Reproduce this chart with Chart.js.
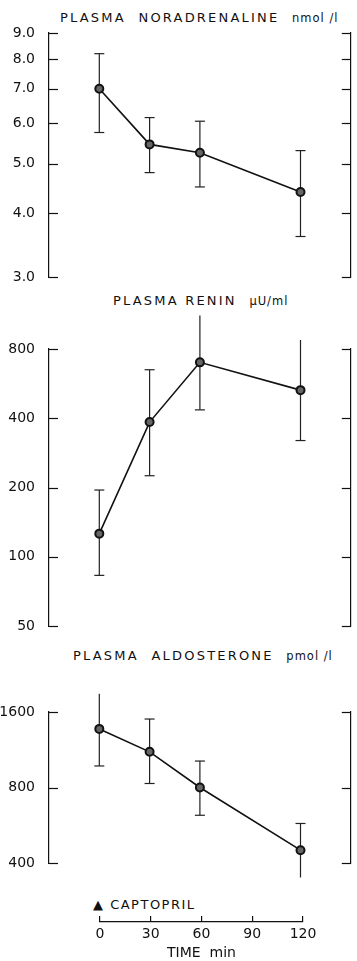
<!DOCTYPE html>
<html>
<head>
<meta charset="utf-8">
<script src="https://cdn.jsdelivr.net/npm/chart.js@4.4.1/dist/chart.umd.min.js"></script>
<style>
  html, body { margin: 0; padding: 0; background: #fff; }
  body { width: 357px; height: 961px; position: relative; overflow: hidden; }
  canvas { position: absolute; left: 0; }
  .lbl {
    position: absolute; white-space: pre; color: #111;
    font-family: "DejaVu Sans", sans-serif; font-size: 13px; line-height: 14px;
    letter-spacing: 2.2px;
  }
  .lbl small { font-size: 11.5px; letter-spacing: 1px; }
</style>
</head>
<body>
<div class="lbl" style="left:60px; top:11px;">PLASMA  NORADRENALINE  <small>nmol /l</small></div>
<div class="lbl" style="left:113px; top:294px;">PLASMA RENIN  <small>µU/ml</small></div>
<div class="lbl" style="left:73px; top:649px;">PLASMA  ALDOSTERONE  <small>pmol /l</small></div>
<div class="lbl" style="left:93px; top:898px; letter-spacing:1.5px;">▲ CAPTOPRIL</div>

<canvas id="norad" width="357" height="304" style="top:3px"></canvas>
<canvas id="renin" width="357" height="367" style="top:304px"></canvas>
<canvas id="aldo" width="357" height="211" style="top:682px"></canvas>
<canvas id="time" width="357" height="51" style="top:916px"></canvas>

<script>
// sampling times (min after captopril)
const times = [0, 30, 60, 120];
const timeTicks = [0, 30, 60, 90, 120];

// plasma noradrenaline, nmol/l
const noradMean = [7.0, 5.45, 5.25, 4.4];
const noradHigh = [8.2, 6.15, 6.05, 5.3];
const noradLow = [5.75, 4.8, 4.5, 3.6];
const noradTicks = [3, 4, 5, 6, 7, 8, 9];

// plasma renin, µU/ml
const reninMean = [126, 385, 700, 530];
const reninHigh = [195, 650, 1120, 875];
const reninLow = [83, 225, 435, 320];
const reninTicks = [50, 100, 200, 400, 800];

// plasma aldosterone, pmol/l
const aldoMean = [1370, 1110, 800, 450];
const aldoHigh = [1890, 1500, 1020, 575];
const aldoLow = [975, 830, 620, 350];
const aldoTicks = [400, 800, 1600];

const ink = '#111';
const font = { family: 'DejaVu Sans', size: 14 };

// short tick marks pointing into the plot from both vertical axes
const innerTicks = {
	id: 'innerTicks',
	afterDraw(chart, args, opts) {
		const ctx = chart.ctx;
		ctx.save();
		ctx.strokeStyle = ink;
		ctx.lineWidth = 1.2;
		['y', 'y2'].forEach(id => {
			const sc = chart.scales[id];
			if (!sc) return;
			const x0 = id === 'y' ? sc.right : sc.left;
			const dir = id === 'y' ? 1 : -1;
			sc.ticks.forEach(t => {
				const py = Math.round(sc.getPixelForValue(t.value)) + 0.5;
				ctx.beginPath();
				ctx.moveTo(x0, py);
				ctx.lineTo(x0 + dir * opts.length, py);
				ctx.stroke();
			});
		});
		ctx.restore();
	}
};

function errorData(high, low) {
	let arr = [];
	times.forEach((t, i) => {
		arr.push({ x: t, y: low[i] }, { x: t, y: high[i] }, { x: t, y: null });
	});
	return arr;
}

function makePanel(id, mean, high, low, ticks, digits, pad) {
	const yBase = {
		type: 'logarithmic',
		min: ticks[0],
		max: ticks[ticks.length - 1],
		afterBuildTicks: sc => { sc.ticks = ticks.map(v => ({ value: v })); },
		grid: { display: false },
		border: { display: true, color: ink, width: 1.2 }
	};
	return new Chart(document.getElementById(id).getContext('2d'), {
		type: 'line',
		data: {
			datasets: [{
				data: times.map((t, i) => ({ x: t, y: mean[i] })),
				borderColor: ink,
				borderWidth: 1.6,
				pointRadius: 4,
				pointBackgroundColor: '#666',
				pointBorderColor: ink,
				pointBorderWidth: 2,
				clip: false
			}, {
				data: errorData(high, low),
				borderColor: '#222',
				borderWidth: 1.2,
				pointStyle: 'line',
				pointRadius: 5,
				pointBorderColor: '#222',
				pointBorderWidth: 1.2,
				spanGaps: false,
				clip: false
			}]
		},
		options: {
			responsive: false,
			animation: false,
			layout: { padding: { top: pad, bottom: pad, left: 0, right: 0 } },
			plugins: { legend: { display: false }, tooltip: { enabled: false }, innerTicks: { length: 9 } },
			scales: {
				x: { type: 'linear', min: -30, max: 150, display: false },
				y: Object.assign({}, yBase, {
					position: 'left',
					afterFit: sc => { sc.width = 49; },
					ticks: { autoSkip: false, padding: 6, color: ink, font: font,
						callback: v => v.toFixed(digits) }
				}),
				y2: Object.assign({}, yBase, {
					position: 'right',
					afterFit: sc => { sc.width = 5; },
					ticks: { display: false }
				})
			}
		},
		plugins: [innerTicks]
	});
}

makePanel('norad', noradMean, noradHigh, noradLow, noradTicks, 1, 30);
makePanel('renin', reninMean, reninHigh, reninLow, reninTicks, 0, 45);
makePanel('aldo', aldoMean, aldoHigh, aldoLow, aldoTicks, 0, 30);

// shared time axis under the last panel
new Chart(document.getElementById('time').getContext('2d'), {
	type: 'line',
	data: { datasets: [{ data: [] }] },
	options: {
		responsive: false,
		animation: false,
		layout: { padding: { top: 0, bottom: 0, left: 100, right: 54 } },
		plugins: { legend: { display: false }, tooltip: { enabled: false } },
		scales: {
			y: { display: false, min: 0, max: 1 },
			x: {
				type: 'linear', min: 0, max: 120,
				afterBuildTicks: sc => { sc.ticks = timeTicks.map(v => ({ value: v })); },
				afterFit: sc => { sc.height = 45; },
				grid: { color: ink, lineWidth: 1.2, drawTicks: false, drawOnChartArea: true },
				border: { display: true, color: ink, width: 1.2 },
				ticks: { padding: 4, color: ink, font: font, maxRotation: 0, autoSkip: false },
				title: { display: true, text: 'TIME  min', color: ink,
					font: { family: 'DejaVu Sans', size: 14 }, padding: { top: 0, bottom: 5 } }
			}
		}
	}
});
</script>
</body>
</html>
